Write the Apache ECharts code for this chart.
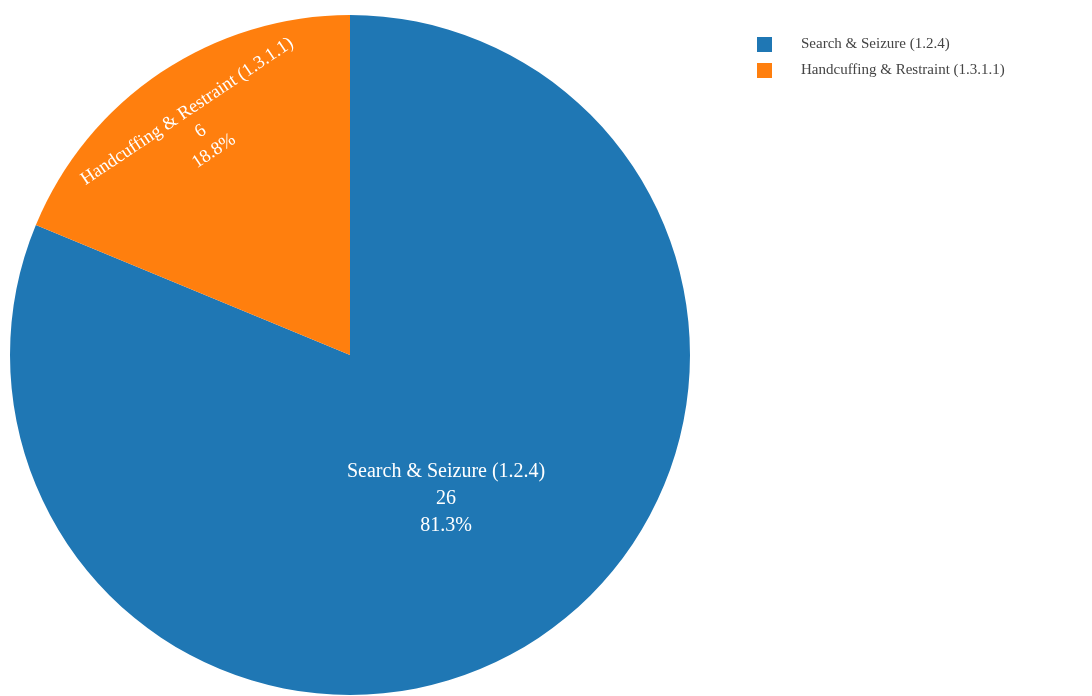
<!DOCTYPE html>
<html>
<head>
<meta charset="utf-8">
<script src="https://cdn.jsdelivr.net/npm/echarts@6/dist/echarts.min.js"></script>
<style>
  html, body { margin: 0; padding: 0; background: #fff; }
  #chart { width: 1092px; height: 696px; }
</style>
</head>
<body>
<div id="chart"></div>
<script>
// Use-of-force report: incident counts by policy section
const categories = ['Search & Seizure (1.2.4)', 'Handcuffing & Restraint (1.3.1.1)'];
const counts = [26, 6];
const colors = ['#1f77b4', '#ff7f0e'];

const serif = '"Liberation Serif", "Times New Roman", serif';
const total = counts.reduce((a, b) => a + b, 0);
const pctText = v => (v / total * 100).toFixed(1) + '%';
const labelText = p => p.name + '\n' + p.value + '\n' + pctText(p.value);

const CENTER = [350, 355];
const R = 340;

const chart = echarts.init(document.getElementById('chart'));
chart.setOption({
  backgroundColor: '#ffffff',
  animation: false,
  legend: {
    orient: 'vertical',
    left: 752,
    top: 32,
    itemWidth: 15,
    itemHeight: 15,
    itemGap: 11,
    icon: 'rect',
    data: categories,
    textStyle: {
      color: '#444',
      fontSize: 15,
      fontFamily: serif,
      padding: [0, 0, 0, 24]
    }
  },
  series: [
    {
      // main pie; the large slice carries its label at mid radius
      type: 'pie',
      center: CENTER,
      radius: [0, R],
      startAngle: 90,
      clockwise: true,
      label: { show: false },
      labelLine: { show: false },
      emphasis: { disabled: true },
      data: categories.map((name, i) => ({
        name,
        value: counts[i],
        itemStyle: { color: colors[i] },
        label: i === 0 ? {
          show: true,
          position: 'inside',
          formatter: labelText,
          color: '#fff',
          fontSize: 20,
          lineHeight: 27,
          fontFamily: serif,
          rotate: 0
        } : { show: false }
      }))
    },
    {
      // transparent ring used to place the small slice's label near the rim
      type: 'pie',
      center: CENTER,
      radius: [192, R],
      startAngle: 90,
      clockwise: true,
      silent: true,
      legendHoverLink: false,
      label: { show: false },
      labelLine: { show: false },
      itemStyle: { color: 'rgba(0,0,0,0)' },
      data: categories.map((name, i) => ({
        name,
        value: counts[i],
        label: i === 1 ? {
          show: true,
          position: 'inside',
          formatter: labelText,
          color: '#fff',
          fontSize: 18.5,
          lineHeight: 24,
          fontFamily: serif,
          rotate: 'tangential'
        } : { show: false }
      }))
    }
  ]
});
</script>
</body>
</html>
